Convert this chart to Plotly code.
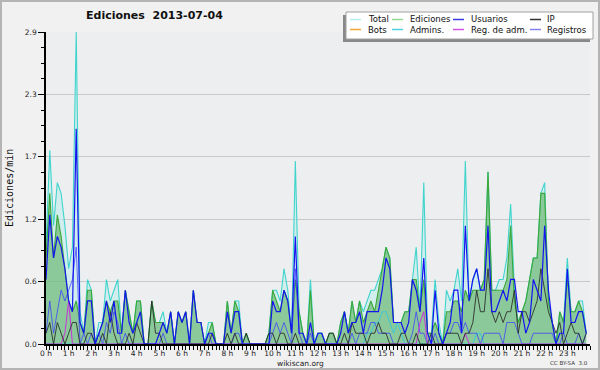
import plotly.graph_objects as go

# x positions: 10-minute intervals expressed in hours
hours = [i / 6 for i in range(144)]
hour_ticks = list(range(24))
hour_labels = [f"{h} h" for h in hour_ticks]
y_ticks = [0, 0.58, 1.16, 1.74, 2.32, 2.9]
y_labels = ["0.0", "0.6", "1.2", "1.7", "2.3", "2.9"]

total = [0.9,1.8,1.1,1.5,1.4,1.1,0.7,0.9,2.9,0.3,0.1,0.6,
         0.5,0.0,0.2,0.2,0.6,0.4,0.5,0.6,0.1,0.5,0.3,0.1,
         0.4,0.4,0.0,0.0,0.4,0.2,0.2,0.3,0.1,0.3,0.0,0.3,
         0.2,0.3,0.0,0.5,0.2,0.2,0.0,0.2,0.2,0.0,0.0,0.0,
         0.4,0.1,0.4,0.4,0.0,0.1,0.0,0.0,0.0,0.0,0.0,0.1,
         0.5,0.5,0.4,0.7,0.5,0.1,1.7,0.3,0.1,0.0,0.6,0.0,
         0.1,0.1,0.0,0.1,0.1,0.0,0.2,0.3,0.1,0.4,0.2,0.4,
         0.3,0.4,0.5,0.5,0.6,0.7,0.9,0.8,0.2,0.2,0.2,0.3,
         0.3,0.6,0.9,0.3,1.5,0.1,0.1,0.6,0.2,0.0,0.5,0.4,
         0.5,0.7,0.4,1.7,0.4,0.6,0.7,0.5,0.6,1.6,0.5,0.5,
         0.6,0.6,0.8,1.3,0.5,0.2,0.3,0.4,0.6,0.8,0.8,1.4,
         1.5,0.4,0.2,0.0,0.3,0.2,0.8,0.3,0.3,0.4,0.4,0.1]

ediciones = [0.8,1.4,0.8,1.2,1.0,0.7,0.4,0.3,0.4,0.2,0.1,0.5,
             0.5,0.0,0.1,0.2,0.4,0.3,0.4,0.4,0.1,0.5,0.3,0.1,
             0.4,0.4,0.0,0.0,0.4,0.2,0.2,0.2,0.1,0.3,0.0,0.3,
             0.2,0.3,0.0,0.5,0.2,0.2,0.0,0.1,0.2,0.0,0.0,0.0,
             0.4,0.1,0.4,0.3,0.0,0.1,0.0,0.0,0.0,0.0,0.0,0.1,
             0.5,0.4,0.3,0.5,0.4,0.1,0.6,0.3,0.1,0.0,0.5,0.0,
             0.1,0.1,0.0,0.1,0.1,0.0,0.2,0.3,0.1,0.4,0.2,0.4,
             0.2,0.3,0.4,0.3,0.5,0.7,0.9,0.8,0.2,0.2,0.2,0.3,
             0.3,0.6,0.6,0.3,0.6,0.1,0.1,0.2,0.1,0.0,0.3,0.3,
             0.4,0.4,0.3,0.5,0.4,0.5,0.5,0.5,0.6,1.6,0.5,0.5,
             0.5,0.5,0.6,1.1,0.4,0.2,0.3,0.4,0.6,0.8,0.8,1.4,
             1.4,0.4,0.2,0.0,0.3,0.2,0.6,0.3,0.3,0.4,0.3,0.1]

usuarios = [0.6,1.2,0.8,1.0,0.9,0.7,0.4,0.3,2.0,0.2,0.1,0.4,
            0.4,0.0,0.1,0.2,0.4,0.2,0.4,0.1,0.1,0.5,0.2,0.1,
            0.2,0.3,0.0,0.0,0.0,0.0,0.1,0.2,0.1,0.3,0.0,0.3,
            0.2,0.3,0.0,0.5,0.2,0.2,0.0,0.1,0.1,0.0,0.0,0.0,
            0.3,0.1,0.3,0.3,0.0,0.0,0.0,0.0,0.0,0.0,0.0,0.0,
            0.4,0.3,0.3,0.5,0.4,0.1,1.0,0.1,0.1,0.0,0.2,0.0,
            0.1,0.1,0.0,0.0,0.0,0.0,0.1,0.3,0.1,0.2,0.2,0.3,
            0.1,0.3,0.3,0.3,0.3,0.5,0.8,0.7,0.2,0.2,0.2,0.1,
            0.2,0.6,0.5,0.3,0.8,0.1,0.0,0.5,0.1,0.0,0.1,0.2,
            0.5,0.5,0.1,1.1,0.4,0.6,0.7,0.5,0.5,1.1,0.3,0.3,
            0.4,0.5,0.4,0.6,0.6,0.3,0.3,0.1,0.2,0.6,0.5,0.4,
            1.1,0.5,0.2,0.0,0.1,0.1,0.7,0.2,0.2,0.3,0.3,0.1]

ip = [0.1,0.2,0.0,0.2,0.1,0.0,0.1,0.2,0.2,0.0,0.0,0.1,
      0.1,0.0,0.0,0.1,0.0,0.3,0.1,0.0,0.0,0.0,0.1,0.0,
      0.2,0.1,0.0,0.0,0.4,0.1,0.1,0.0,0.0,0.0,0.0,0.0,
      0.0,0.0,0.0,0.0,0.0,0.0,0.0,0.0,0.1,0.0,0.0,0.0,
      0.1,0.0,0.1,0.0,0.0,0.1,0.0,0.0,0.0,0.0,0.0,0.1,
      0.1,0.0,0.1,0.1,0.0,0.0,0.1,0.0,0.0,0.0,0.0,0.0,
      0.0,0.0,0.0,0.1,0.1,0.0,0.0,0.1,0.0,0.2,0.1,0.1,
      0.1,0.0,0.1,0.1,0.2,0.1,0.1,0.0,0.0,0.0,0.1,0.1,
      0.0,0.0,0.1,0.0,0.0,0.0,0.1,0.0,0.0,0.0,0.1,0.1,
      0.1,0.1,0.0,0.1,0.1,0.2,0.5,0.3,0.3,0.7,0.3,0.2,
      0.3,0.2,0.3,0.3,0.5,0.1,0.3,0.3,0.2,0.3,0.4,0.7,
      0.5,0.3,0.2,0.1,0.2,0.0,0.1,0.2,0.1,0.1,0.0,0.1]

registros = [0.1,0.4,0.1,0.3,0.5,0.4,0.5,0.6,0.9,0.0,0.1,0.0,
             0.1,0.0,0.1,0.0,0.2,0.1,0.3,0.2,0.0,0.1,0.0,0.0,
             0.0,0.0,0.0,0.0,0.0,0.0,0.0,0.1,0.0,0.0,0.0,0.0,
             0.0,0.0,0.0,0.0,0.0,0.0,0.0,0.1,0.0,0.0,0.0,0.0,
             0.0,0.0,0.1,0.1,0.0,0.0,0.0,0.0,0.0,0.0,0.0,0.0,
             0.1,0.2,0.1,0.2,0.1,0.0,0.7,0.1,0.0,0.0,0.1,0.0,
             0.0,0.0,0.0,0.0,0.0,0.0,0.0,0.0,0.0,0.1,0.0,0.1,
             0.1,0.1,0.2,0.2,0.1,0.1,0.1,0.1,0.0,0.0,0.0,0.0,
             0.0,0.1,0.3,0.1,0.1,0.0,0.0,0.1,0.0,0.0,0.1,0.1,
             0.2,0.2,0.1,0.2,0.1,0.1,0.1,0.0,0.1,0.1,0.1,0.1,
             0.1,0.0,0.2,0.2,0.2,0.1,0.0,0.0,0.0,0.1,0.1,0.1,
             0.1,0.1,0.1,0.0,0.0,0.1,0.0,0.0,0.0,0.1,0.0,0.1]

admins = [0.0]*72 + [
          0.1,0.1,0.0,0.0,0.0,0.0,0.0,0.0,0.0,0.0,0.0,0.0,
          0.0,0.1,0.1,0.2,0.2,0.3,0.3,0.2,0.1,0.2,0.1,0.0,
          0.0,0.0,0.0,0.0,0.0,0.0,0.0,0.0,0.0,0.0,0.0,0.0,
          0.0,0.0,0.0,0.0,0.0,0.0,0.1,0.1,0.0,0.0,0.0,0.0,
          0.0,0.0,0.0,0.0,0.0,0.0,0.0,0.0,0.0,0.0,0.0,0.0,
          0.0,0.0,0.0,0.0,0.0,0.0,0.0,0.0,0.0,0.0,0.0,0.0]

reg_adm = [0.0,0.0,0.0,0.0,0.0,0.1,0.4,0.0] + [0.0]*91 + [0.2,0.3] + [0.0]*10 + [0.1] + [0.0]*32

legend_names = ["Total", "Ediciones", "Usuarios", "IP",
                "Bots", "Admins.", "Reg. de adm.", "Registros"]
legend_colors = ["#b4eded", "#94d894", "#3a3ae6", "#333333",
                 "#f4a436", "#4ed2e0", "#d453e6", "#8484f2"]

W, H = 600, 370
L, R, T, B = 46, 10, 32, 26
PW, PH = W - L - R, H - T - B


def xp(px):
    return (px - L) / PW


def yp(py):
    return (H - B - py) / PH


fig = go.Figure()

fig.add_trace(go.Scatter(x=hours, y=total, mode="lines", fill="tozeroy",
                         fillcolor="rgba(190,236,236,0.55)",
                         line=dict(color="#3fd4cc", width=1.1), name="Total"))
fig.add_trace(go.Scatter(x=hours, y=ediciones, mode="lines", fill="tozeroy",
                         fillcolor="rgba(70,165,70,0.50)",
                         line=dict(color="#3aa83a", width=1.1), name="Ediciones"))
fig.add_trace(go.Scatter(x=hours, y=admins, mode="lines",
                         line=dict(color="#3cc8d8", width=1.0), name="Admins."))
fig.add_trace(go.Scatter(x=hours, y=registros, mode="lines",
                         line=dict(color="rgba(60,60,255,0.75)", width=1.0), name="Registros"))
fig.add_trace(go.Scatter(x=hours, y=reg_adm, mode="lines",
                         line=dict(color="#c833d8", width=1.0), name="Reg. de adm."))
fig.add_trace(go.Scatter(x=hours, y=ip, mode="lines",
                         line=dict(color="rgba(40,40,40,0.85)", width=1.0), name="IP"))
fig.add_trace(go.Scatter(x=hours, y=usuarios, mode="lines",
                         line=dict(color="#1414f0", width=1.2), name="Usuarios"))

shapes = []
annotations = []

# page border
shapes.append(dict(type="rect", xref="paper", yref="paper",
                   x0=xp(1), x1=xp(W - 1), y0=yp(H - 1), y1=yp(1),
                   line=dict(color="#b4b4b4", width=2), fillcolor="rgba(0,0,0,0)",
                   layer="below"))

# legend box with shadow
shapes.append(dict(type="rect", xref="paper", yref="paper",
                   x0=xp(343), x1=xp(590), y0=yp(42), y1=yp(15),
                   line=dict(width=0), fillcolor="#888888"))
shapes.append(dict(type="rect", xref="paper", yref="paper",
                   x0=xp(346), x1=xp(593), y0=yp(39), y1=yp(12),
                   line=dict(color="#a0a0a0", width=1), fillcolor="#ffffff"))
col_line = [350, 392, 453, 530]
col_text = [366, 408, 469, 545]
rows = [19.5, 29.5]
for k, (name, color) in enumerate(zip(legend_names, legend_colors)):
    r, c = divmod(k, 4)
    shapes.append(dict(type="line", xref="paper", yref="paper",
                       x0=xp(col_line[c]), x1=xp(col_line[c] + 11),
                       y0=yp(rows[r]), y1=yp(rows[r]),
                       line=dict(color=color, width=1.5)))
    annotations.append(dict(text=name, xref="paper", yref="paper",
                            x=xp(col_text[c]), y=yp(rows[r]),
                            xanchor="left", yanchor="middle", showarrow=False,
                            font=dict(family="DejaVu Sans", size=8.5, color="#111")))

annotations.append(dict(text="<b>Ediciones  2013-07-04</b>", xref="paper", yref="paper",
                        x=xp(154), y=yp(16), xanchor="center", yanchor="middle",
                        showarrow=False,
                        font=dict(family="DejaVu Sans", size=11, color="#111")))
annotations.append(dict(text="Ediciones/min", xref="paper", yref="paper",
                        x=xp(9), y=yp(188), xanchor="center", yanchor="middle",
                        textangle=-90, showarrow=False,
                        font=dict(family="DejaVu Sans Mono", size=10, color="#111")))
annotations.append(dict(text="wikiscan.org", xref="paper", yref="paper",
                        x=xp(300), y=yp(363), xanchor="center", yanchor="middle",
                        showarrow=False,
                        font=dict(family="DejaVu Sans", size=7.5, color="#222")))
annotations.append(dict(text="CC BY-SA  3.0", xref="paper", yref="paper",
                        x=xp(590), y=yp(363), xanchor="right", yanchor="middle",
                        showarrow=False,
                        font=dict(family="DejaVu Sans", size=5.5, color="#333")))

fig.update_layout(
    width=W, height=H,
    margin=dict(l=L, r=R, t=T, b=B, pad=0),
    paper_bgcolor="#f1f1f1",
    plot_bgcolor="#eceef0",
    showlegend=False,
    shapes=shapes,
    annotations=annotations,
    xaxis=dict(range=[0, 24], tickmode="array", tickvals=hour_ticks, ticktext=hour_labels,
               ticks="outside", ticklen=4, tickcolor="#000", tickwidth=1,
               ticklabelstandoff=-3,
               showline=True, linecolor="#000", linewidth=1.5,
               showgrid=False, zeroline=False,
               tickfont=dict(family="DejaVu Sans", size=7.5, color="#222"),
               minor=dict(dtick=1 / 6, tick0=0, ticks="outside", ticklen=4,
                          tickcolor="#000", showgrid=False)),
    yaxis=dict(range=[0, 2.9], tickmode="array", tickvals=y_ticks, ticktext=y_labels,
               ticks="outside", ticklen=6, tickcolor="#000", tickwidth=1,
               showline=True, linecolor="#000", linewidth=1.5,
               showgrid=True, gridcolor="#c9c9c9", gridwidth=1, zeroline=False,
               tickfont=dict(family="DejaVu Sans", size=7.5, color="#222"),
               minor=dict(dtick=0.145, tick0=0, ticks="outside", ticklen=3,
                          tickcolor="#000", showgrid=False)),
)

fig.write_html("out.html", config={"displayModeBar": False},
               post_script="document.body.style.margin='0';document.body.style.overflow='hidden';")
